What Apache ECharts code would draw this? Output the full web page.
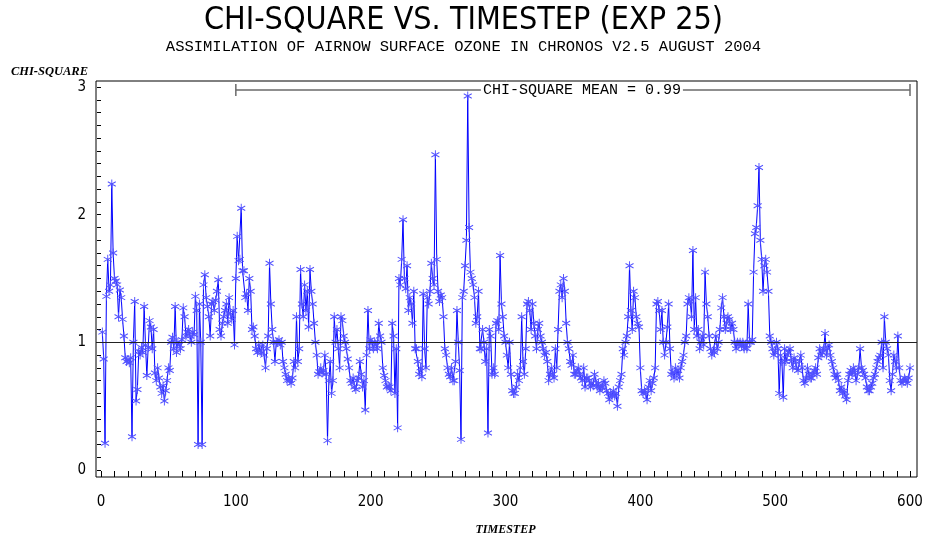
<!DOCTYPE html>
<html>
<head>
<meta charset="utf-8">
<title>Chi-square vs. timestep</title>
<script src="https://cdn.jsdelivr.net/npm/echarts@6/dist/echarts.min.js"></script>
<style>
  html, body { margin: 0; padding: 0; background: #fff; }
  #chart { width: 927px; height: 533px; }
</style>
</head>
<body>
<div id="chart"></div>
<script>
// chi-square per timestep, t = 1..600
const CHI_SQUARE = [
  1.08, 0.87, 0.21, 1.36, 1.65, 1.40, 1.45, 2.24, 1.70, 1.50,
  1.48, 1.45, 1.20, 1.41, 1.35, 1.18, 1.05, 0.88, 0.85, 0.86,
  0.84, 0.88, 0.26, 1.00, 1.32, 0.54, 0.63, 0.93, 0.90, 0.96,
  0.92, 1.28, 0.98, 0.74, 0.96, 1.17, 1.12, 0.95, 1.10, 0.76,
  0.70, 0.80, 0.72, 0.65, 0.60, 0.66, 0.54, 0.62, 0.70, 0.80,
  0.78, 1.00, 1.04, 0.95, 1.28, 0.92, 1.00, 0.98, 0.95, 1.02,
  1.27, 1.20, 1.05, 1.08, 1.10, 1.05, 1.00, 1.08, 1.06, 1.36,
  1.25, 0.20, 1.30, 1.00, 0.20, 1.45, 1.53, 1.35, 1.28, 1.20,
  1.05, 1.30, 1.32, 1.25, 1.33, 1.40, 1.49, 1.10, 1.05, 1.15,
  1.20, 1.25, 1.30, 1.15, 1.35, 1.22, 1.18, 1.25, 0.98, 1.50,
  1.83, 1.64, 1.65, 2.05, 1.56, 1.56, 1.35, 1.38, 1.25, 1.50,
  1.40, 1.10, 1.12, 1.05, 0.95, 0.92, 0.98, 0.93, 0.92, 0.98,
  0.90, 0.80, 0.95, 1.05, 1.62, 1.30, 1.10, 1.00, 0.85, 1.00,
  1.00, 1.02, 0.98, 1.00, 0.85, 0.80, 0.75, 0.70, 0.72, 0.70,
  0.68, 0.72, 0.85, 0.80, 1.20, 0.85, 0.95, 1.57, 1.30, 1.20,
  1.45, 1.25, 1.40, 1.12, 1.57, 1.40, 1.30, 1.15, 1.00, 0.90,
  0.75, 0.77, 0.80, 0.76, 0.78, 0.90, 0.75, 0.23, 0.70, 0.85,
  0.60, 0.70, 1.20, 1.00, 1.10, 0.95, 0.80, 1.20, 1.17, 1.05,
  1.00, 0.95, 0.87, 0.80, 0.70, 0.68, 0.72, 0.65, 0.63, 0.70,
  0.72, 0.85, 0.75, 0.65, 0.70, 0.47, 0.90, 1.25, 0.95, 1.02,
  1.00, 0.95, 1.00, 0.98, 0.95, 1.15, 1.05, 1.00, 0.80, 0.74,
  0.70, 0.65, 0.66, 0.65, 0.62, 1.15, 1.05, 0.60, 0.95, 0.33,
  1.50, 1.45, 1.65, 1.96, 1.50, 1.42, 1.60, 1.25, 1.35, 1.30,
  1.15, 1.40, 0.95, 0.95, 0.85, 0.75, 0.80, 0.73, 1.38, 0.95,
  0.80, 1.35, 1.30, 1.40, 1.62, 1.50, 1.45, 2.47, 1.65, 1.40,
  1.32, 1.37, 1.35, 1.20, 0.95, 0.90, 0.80, 0.75, 0.73, 0.80,
  0.70, 0.70, 0.85, 1.25, 1.00, 0.78, 0.24, 1.35, 1.40, 1.60,
  1.80, 2.93, 1.90, 1.55, 1.50, 1.45, 1.35, 1.15, 1.20, 1.40,
  0.95, 0.95, 1.10, 1.00, 0.85, 0.95, 0.29, 1.10, 1.05, 0.75,
  0.80, 0.75, 1.15, 1.17, 1.10, 1.68, 1.30, 1.20, 1.05, 1.00,
  0.90, 0.80, 1.00, 0.75, 0.62, 0.60, 0.60, 0.65, 0.75, 0.70,
  0.80, 1.20, 0.85, 0.75, 0.95, 1.30, 1.32, 1.25, 1.10, 1.30,
  1.15, 1.05, 0.95, 1.10, 1.15, 1.05, 1.00, 0.95, 0.90, 0.92,
  0.85, 0.70, 0.75, 0.80, 0.75, 0.72, 0.95, 0.80, 1.10, 1.40,
  1.45, 1.35, 1.50, 1.40, 1.15, 1.00, 0.95, 0.85, 0.82, 0.90,
  0.75, 0.75, 0.78, 0.80, 0.75, 0.72, 0.70, 0.80, 0.65, 0.72,
  0.72, 0.70, 0.65, 0.68, 0.66, 0.75, 0.70, 0.65, 0.68, 0.62,
  0.65, 0.65, 0.70, 0.68, 0.62, 0.60, 0.55, 0.60, 0.58, 0.62,
  0.58, 0.60, 0.50, 0.65, 0.70, 0.75, 0.95, 0.90, 1.00, 1.05,
  1.20, 1.60, 1.25, 1.10, 1.40, 1.35, 1.20, 1.15, 1.12, 0.80,
  0.62, 0.60, 0.62, 0.60, 0.55, 0.65, 0.70, 0.62, 0.68, 0.72,
  0.80, 1.30, 1.32, 1.25, 1.10, 1.25, 1.00, 0.90, 1.00, 1.12,
  1.30, 0.95, 0.75, 0.77, 0.72, 0.80, 0.75, 0.78, 0.72, 0.80,
  0.85, 0.90, 1.00, 1.05, 1.30, 1.35, 1.32, 1.20, 1.72, 1.10,
  1.35, 1.05, 1.10, 0.95, 1.00, 1.05, 0.98, 1.55, 1.30, 1.20,
  1.05, 0.95, 0.90, 0.93, 0.92, 1.05, 0.95, 1.00, 1.10, 1.27,
  1.35, 1.20, 1.10, 1.15, 1.20, 1.18, 1.10, 1.15, 1.10, 1.00,
  0.95, 1.00, 0.98, 1.00, 0.97, 1.00, 0.95, 0.98, 0.95, 1.30,
  1.00, 1.00, 1.02, 1.55, 1.85, 1.90, 2.07, 2.37, 1.80, 1.65,
  1.40, 1.60, 1.65, 1.55, 1.40, 1.05, 1.00, 0.95, 0.90, 0.92,
  1.00, 0.95, 0.60, 0.90, 0.85, 0.57, 0.95, 0.85, 0.90, 0.92,
  0.95, 0.85, 0.80, 0.88, 0.85, 0.80, 0.78, 0.85, 0.90, 0.80,
  0.70, 0.68, 0.72, 0.80, 0.75, 0.72, 0.72, 0.75, 0.78, 0.80,
  0.75, 0.88, 0.95, 0.90, 0.92, 0.95, 1.07, 0.90, 0.95, 0.98,
  0.90, 0.85, 0.80, 0.75, 0.72, 0.75, 0.70, 0.62, 0.65, 0.60,
  0.62, 0.58, 0.55, 0.70, 0.75, 0.78, 0.75, 0.80, 0.78, 0.70,
  0.75, 0.80, 0.95, 0.80, 0.78, 0.75, 0.72, 0.65, 0.62, 0.62,
  0.65, 0.68, 0.72, 0.75, 0.80, 0.85, 0.88, 0.90, 1.00, 0.80,
  1.20, 1.00, 0.95, 0.90, 0.70, 0.62, 0.75, 0.90, 0.85, 0.80,
  1.05, 0.80, 0.70, 0.68, 0.70, 0.72, 0.70, 0.68, 0.72, 0.80
];
const TIMESTEPS = CHI_SQUARE.map((v, i) => i + 1);

// mean over the bracketed range
const MEAN_RANGE = [100, 600];
const MEAN_VALUE = 0.99;
const REF_LEVEL = 1;

// axis ticks
const X_TICKS = [0, 600, 100];   // min, max, step
const X_MINOR_STEP = 10;
const Y_TICKS = [0, 3, 1];

const TITLE = 'CHI-SQUARE VS. TIMESTEP (EXP 25)';
const SUBTITLE = 'ASSIMILATION OF AIRNOW SURFACE OZONE IN CHRONOS V2.5 AUGUST 2004';

const MONO = '"Liberation Mono", "DejaVu Sans Mono", monospace';
const NARROW = '"Liberation Sans Narrow", "DejaVu Sans Condensed", sans-serif';
const SERIF = '"Liberation Serif", "DejaVu Serif", serif';

const chart = echarts.init(document.getElementById('chart'), null, { renderer: 'canvas' });

// grid 0 is the frame (data lives here); grid 1 carries the labelled y axis;
// grid 2 carries the x labels; x ticks are drawn along the frame's bottom edge
const PX_X = (910 - 101) / (X_TICKS[1] - X_TICKS[0]);
const PX_Y = (470 - 87) / (Y_TICKS[1] - Y_TICKS[0]);
const FRAME_X = [X_TICKS[0] - 5 / PX_X, X_TICKS[1] + 7 / PX_X];
const FRAME_Y = [Y_TICKS[0] - 7 / PX_Y, Y_TICKS[1] + 6 / PX_Y];

const xTickValues = [];
for (let v = X_TICKS[0]; v <= X_TICKS[1]; v += X_MINOR_STEP) xTickValues.push(v);

const asterisk = 'path://M0,-5L0,5M-4.33,-2.5L4.33,2.5M-4.33,2.5L4.33,-2.5';

const tickLine = { color: '#000', width: 1 };

chart.setOption({
  animation: false,
  backgroundColor: '#fff',
  title: {
    text: TITLE,
    subtext: SUBTITLE,
    left: 'center',
    top: 0,
    itemGap: 2,
    textStyle: { fontFamily: NARROW, fontSize: 32, fontWeight: 'normal', color: '#000' },
    subtextStyle: { fontFamily: MONO, fontSize: 15.5, color: '#000' }
  },
  grid: [
    { left: 96, right: 10, top: 81, bottom: 56, outerBoundsMode: 'none', show: true, borderColor: '#000', borderWidth: 1, backgroundColor: 'transparent' },
    { left: 101, right: 17, top: 87, bottom: 63, outerBoundsMode: 'none' },
    { left: 101, right: 17, top: 478, bottom: 48, outerBoundsMode: 'none' }
  ],
  xAxis: [
    {
      gridIndex: 0, type: 'value',
      min: FRAME_X[0], max: FRAME_X[1],
      show: false
    },
    {
      gridIndex: 1, type: 'value',
      min: X_TICKS[0], max: X_TICKS[1],
      show: false
    },
    {
      gridIndex: 2, type: 'value',
      position: 'bottom',
      min: X_TICKS[0], max: X_TICKS[1], interval: X_TICKS[2],
      axisLine: { show: false },
      axisTick: { show: false },
      splitLine: { show: false },
      axisLabel: { margin: 10, fontFamily: NARROW, fontSize: 15, color: '#000' },
      name: 'TIMESTEP',
      nameLocation: 'middle',
      nameGap: 39,
      nameTextStyle: { fontFamily: SERIF, fontStyle: 'italic', fontWeight: 'bold', fontSize: 12, color: '#000' }
    }
  ],
  yAxis: [
    {
      gridIndex: 0, type: 'value',
      min: FRAME_Y[0], max: FRAME_Y[1],
      show: false
    },
    {
      gridIndex: 1, type: 'value',
      min: Y_TICKS[0], max: Y_TICKS[1], interval: Y_TICKS[2],
      offset: 5,
      axisLine: { show: false },
      axisTick: { show: true, length: 4, lineStyle: tickLine },
      minorTick: { show: true, splitNumber: 10, length: 4, lineStyle: tickLine },
      splitLine: { show: false },
      axisLabel: { margin: 10, fontFamily: NARROW, fontSize: 15, color: '#000' },
      name: 'CHI-SQUARE',
      nameLocation: 'end',
      nameGap: 15,
      nameTextStyle: { fontFamily: SERIF, fontStyle: 'italic', fontWeight: 'bold', fontSize: 12.5, color: '#000', align: 'right', verticalAlign: 'middle', padding: [0, 13, 0, 0] }
    },
    {
      gridIndex: 2, type: 'value',
      min: 0, max: 1,
      show: false
    }
  ],
  series: [
    {
      name: 'chi-square',
      type: 'line',
      xAxisIndex: 0,
      yAxisIndex: 0,
      data: TIMESTEPS.map((t, i) => [t, CHI_SQUARE[i]]),
      symbol: asterisk,
      symbolSize: [8, 9],
      showSymbol: true,
      showAllSymbol: true,
      sampling: null,
      lineStyle: { color: '#0000ff', width: 1 },
      itemStyle: { color: 'rgba(0,0,0,0)', borderColor: '#5050ff', borderWidth: 1 },
      emphasis: { disabled: true },
      markLine: {
        silent: true,
        symbol: 'none',
        label: { show: false },
        lineStyle: { color: '#222', width: 1, type: 'solid' },
        data: [{ yAxis: REF_LEVEL }]
      },
      z: 2
    },
    {
      // x-axis tick marks along the frame's bottom edge
      name: 'x ticks',
      type: 'custom',
      xAxisIndex: 0,
      yAxisIndex: 0,
      silent: true,
      clip: false,
      data: xTickValues.map(v => [v, FRAME_Y[0]]),
      encode: { x: 0, y: 1 },
      renderItem: function (params, api) {
        const p = api.coord([api.value(0), FRAME_Y[0]]);
        const x = Math.round(p[0]) + 0.5;
        return {
          type: 'line',
          shape: { x1: x, y1: p[1] - 6, x2: x, y2: p[1] },
          style: { stroke: '#000', lineWidth: 1 }
        };
      },
      z: 10
    },
    {
      name: 'mean bracket',
      type: 'custom',
      xAxisIndex: 0,
      yAxisIndex: 0,
      silent: true,
      data: [[MEAN_RANGE[0], MEAN_RANGE[1], MEAN_VALUE]],
      encode: { x: [0, 1], y: 2 },
      renderItem: function (params, api) {
        const yLevel = Y_TICKS[1] - 3 / PX_Y;
        const a = api.coord([api.value(0), yLevel]);
        const b = api.coord([api.value(1), yLevel]);
        const grey = '#6a6a6a';
        return {
          type: 'group',
          children: [
            { type: 'line', shape: { x1: a[0], y1: a[1], x2: b[0], y2: b[1] }, style: { stroke: grey, lineWidth: 1.5 } },
            { type: 'line', shape: { x1: a[0], y1: a[1] - 6, x2: a[0], y2: a[1] + 6 }, style: { stroke: grey, lineWidth: 1.5 } },
            { type: 'line', shape: { x1: b[0], y1: b[1] - 6, x2: b[0], y2: b[1] + 6 }, style: { stroke: grey, lineWidth: 1.5 } },
            {
              type: 'text',
              style: {
                text: 'CHI-SQUARE MEAN = ' + api.value(2).toFixed(2),
                x: (a[0] + b[0]) / 2 + 9, y: a[1],
                align: 'center', verticalAlign: 'middle',
                font: '15px ' + MONO,
                fill: '#000',
                backgroundColor: '#fff',
                padding: [0, 2]
              }
            }
          ]
        };
      },
      z: 3
    }
  ]
});
</script>
</body>
</html>
